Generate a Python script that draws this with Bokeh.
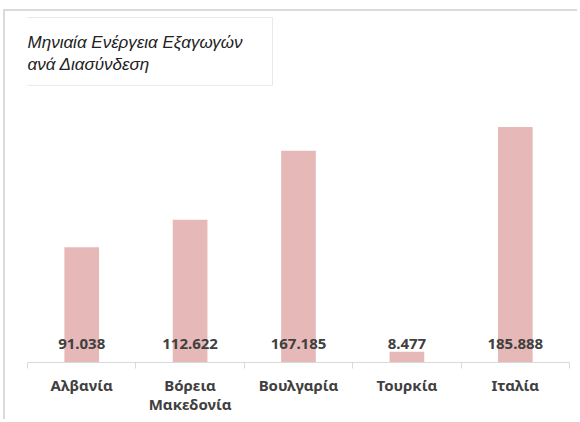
from bokeh.plotting import figure
from bokeh.models import Range1d, FixedTicker, Label, ColumnDataSource
from bokeh.embed import file_html
from bokeh.resources import INLINE
from bokeh.core.properties import value

countries = ["Αλβανία", "Βόρεια\nΜακεδονία", "Βουλγαρία", "Τουρκία", "Ιταλία"]
energy = [91.038, 112.622, 167.185, 8.477, 185.888]
value_labels = ["91.038", "112.622", "167.185", "8.477", "185.888"]
title_text = "Μηνιαία Ενέργεια Εξαγωγών\nανά Διασύνδεση"

pos = [i + 0.5 for i in range(len(countries))]
src = ColumnDataSource(dict(x=pos, top=energy, lbl=value_labels))

p = figure(width=574, height=410, x_range=Range1d(0, len(countries)), y_range=Range1d(0, 275.5),
           output_backend="svg", toolbar_location=None,
           min_border_left=22, min_border_right=10, min_border_top=2, min_border_bottom=59)
p.styles = {"margin-left": "3px", "margin-top": "9px",
            "border-top": "2px solid #dadada", "border-left": "2px solid #dadada"}
p.outline_line_color = None
p.xgrid.visible = False
p.ygrid.visible = False
p.yaxis.visible = False

p.vbar(x="x", top="top", width=0.32, source=src, fill_color="#E6B9B8", line_color=None)
p.text(x="x", y=0, text="lbl", source=src, text_align="center", text_baseline="bottom",
       y_offset=-14, text_font=value("Noto Sans"), text_font_style="bold",
       text_font_size="15px", text_color="#404040")

ax = p.xaxis[0]
ax.ticker = FixedTicker(ticks=pos, minor_ticks=list(range(len(countries) + 1)))
ax.major_label_overrides = {pos[i]: countries[i] for i in range(len(countries))}
ax.axis_line_color = "#d9d9d9"
ax.major_tick_out = 0
ax.major_tick_in = 0
ax.minor_tick_in = 0
ax.minor_tick_out = 6
ax.minor_tick_line_color = "#d9d9d9"
ax.major_label_standoff = 6
ax.major_label_text_font = "Noto Sans"
ax.major_label_text_font_style = "bold"
ax.major_label_text_font_size = "15px"
ax.major_label_text_line_height = 0.95
ax.major_label_text_color = "#404040"

title = Label(x=-0.138, y=272.3, text=title_text, text_align="left", text_baseline="top",
              text_font="Liberation Sans", text_font_style="italic", text_font_size="17px",
              text_color="#222222", border_line_color="#e8e8e8", background_fill_color="white",
              padding=dict(left=15, right=30, top=15, bottom=11))
p.add_layout(title)

open("out.html", "w").write(file_html(p, INLINE))
